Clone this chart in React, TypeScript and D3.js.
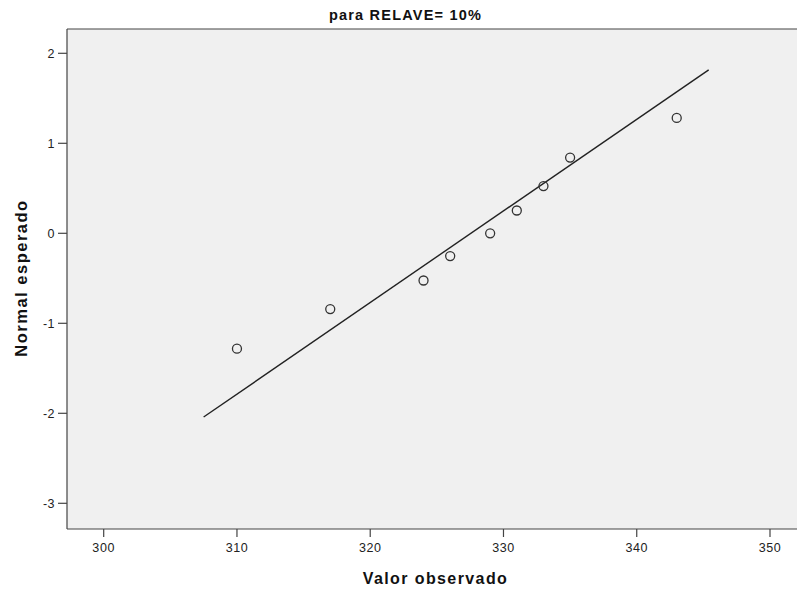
import React from "react";
import * as d3 from "d3";

const title = "para RELAVE= 10%";
const xLabel = "Valor observado";
const yLabel = "Normal esperado";
const observed = [310, 317, 324, 326, 329, 331, 333, 335, 343];
const expectedNormal = [-1.2816, -0.8416, -0.5244, -0.2533, 0, 0.2533, 0.5244, 0.8416, 1.2816];
const xTicks = [300, 310, 320, 330, 340, 350];
const yTicks = [-3, -2, -1, 0, 1, 2];
const lineXRange = [307.5, 345.4];

export default function App() {
  const W = 797, H = 589;
  const left = 67, top = 29, bottom = 529;
  const x = d3.scaleLinear().domain([300, 350]).range([103.7, 770]);
  const y = d3.scaleLinear().domain([-3, 2]).range([503.3, 53.3]);
  const mean = d3.mean(observed) as number;
  const sd = d3.deviation(observed) as number;
  const lineData = lineXRange.map((v) => [v, (v - mean) / sd] as [number, number]);
  const lineGen = d3.line<[number, number]>().x((d) => x(d[0])).y((d) => y(d[1]));
  const font = "Arial, 'Liberation Sans', sans-serif";
  return (
    <svg width={W} height={H} style={{ position: "absolute", left: 0, top: 0 }} fontFamily={font}>
      <rect x={0} y={0} width={W} height={H} fill="#fff" />
      <rect x={left} y={top} width={W - left} height={bottom - top} fill="#f0f0f0" />
      <text x={405.5} y={20} textAnchor="middle" fontWeight="bold" fontSize={14.5} letterSpacing={1.2} fill="#111">{title}</text>
      <path d={lineGen(lineData) || ""} stroke="#222" strokeWidth={1.4} fill="none" />
      {observed.map((v, i) => (
        <circle key={i} cx={x(v)} cy={y(expectedNormal[i])} r={4.5} fill="none" stroke="#333" strokeWidth={1.3} />
      ))}
      <line x1={left} x2={W} y1={top} y2={top} stroke="#444" strokeWidth={1.2} />
      <line x1={left} x2={left} y1={top} y2={bottom} stroke="#444" strokeWidth={1.2} />
      <line x1={left} x2={W} y1={bottom} y2={bottom} stroke="#444" strokeWidth={1.2} />
      {yTicks.map((t) => (
        <g key={t}>
          <line x1={58} x2={left} y1={y(t)} y2={y(t)} stroke="#444" strokeWidth={1.2} />
          <text x={55} y={y(t) + 4.5} textAnchor="end" fontSize={12.5} letterSpacing={0.5} fill="#222">{t}</text>
        </g>
      ))}
      {xTicks.map((t) => (
        <g key={t}>
          <line x1={x(t)} x2={x(t)} y1={bottom} y2={537} stroke="#444" strokeWidth={1.2} />
          <text x={x(t)} y={552} textAnchor="middle" fontSize={12.5} letterSpacing={0.6} fill="#222">{t}</text>
        </g>
      ))}
      <text x={435.5} y={583.5} textAnchor="middle" fontWeight="bold" fontSize={16} letterSpacing={1.4} fill="#111">{xLabel}</text>
      <text transform={`translate(27,278) rotate(-90)`} textAnchor="middle" fontWeight="bold" fontSize={16.5} letterSpacing={1.5} fill="#111">{yLabel}</text>
    </svg>
  );
}
